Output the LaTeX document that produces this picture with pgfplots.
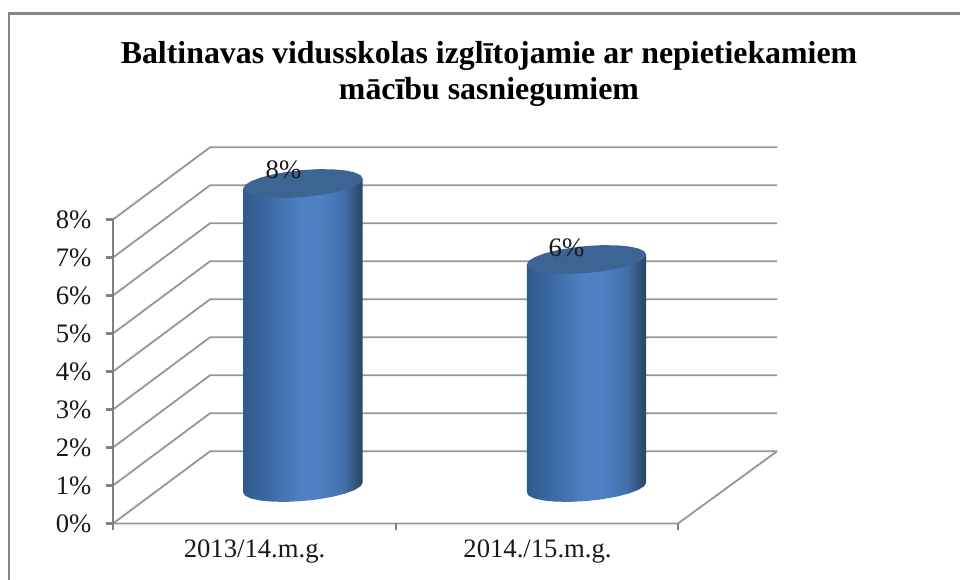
\documentclass[border=0pt]{standalone}
\usepackage{fontspec}
\setmainfont{Liberation Serif}
\usepackage{pgfplots}
\usepackage{pgfplotstable}
\pgfplotsset{compat=1.18}

% 1 px of the reference = 0.75pt; x in px, y in percent (38 px per 1%)
\definecolor{wallgray}{HTML}{969696}
\definecolor{axisgray}{HTML}{808080}
\definecolor{framegray}{HTML}{868686}
\definecolor{captop}{HTML}{3C6594}
\definecolor{cylA}{HTML}{2F5A8C}
\definecolor{cylB}{HTML}{3B69A2}
\definecolor{cylC}{HTML}{4F80C3}
\definecolor{cylD}{HTML}{4170AA}
\definecolor{cylE}{HTML}{2A4260}
\pgfdeclarehorizontalshading{cylbody}{100bp}{
  color(0bp)=(cylA); color(25bp)=(cylA); color(35bp)=(cylB);
  color(49bp)=(cylC); color(57bp)=(cylC); color(67bp)=(cylD);
  color(75bp)=(cylE); color(100bp)=(cylE)}

% outline of a cylinder: lower rim, then up to the top rim (h=1)
\pgfplotstableread{
u s h
-1 0 0
-0.966 -0.259 0
-0.866 -0.5 0
-0.707 -0.707 0
-0.5 -0.866 0
-0.259 -0.966 0
0 -1 0
0.259 -0.966 0
0.5 -0.866 0
0.707 -0.707 0
0.866 -0.5 0
0.966 -0.259 0
1 0 0
1 0 1
-1 0 1
}\cylbody
% top ellipse
\pgfplotstableread{
u s
1 0
0.966 0.259
0.866 0.5
0.707 0.707
0.5 0.866
0.259 0.966
0 1
-0.259 0.966
-0.5 0.866
-0.707 0.707
-0.866 0.5
-0.966 0.259
-1 0
-0.966 -0.259
-0.866 -0.5
-0.707 -0.707
-0.5 -0.866
-0.259 -0.966
0 -1
0.259 -0.966
0.5 -0.866
0.707 -0.707
0.866 -0.5
0.966 -0.259
}\cylcap

\newcommand{\cylinder}[2]{%
  \addplot[draw=none, shade, shading=cylbody] table[
    x expr=#1+59.7*\thisrow{u},
    y expr=0.947+\thisrow{h}*#2+(5*\thisrow{u}+13.5*\thisrow{s})/38] {\cylbody};
  \addplot[draw=none, fill=captop] table[
    x expr=#1+59.7*\thisrow{u},
    y expr=0.947+#2+(5*\thisrow{u}+13.5*\thisrow{s})/38] {\cylcap} -- cycle;
}

\tikzset{
  wall/.style={wallgray, line width=1.35pt, line join=miter},
  axln/.style={axisgray, line width=1.6pt},
}

\begin{document}
\begin{tikzpicture}
\path[use as bounding box] (0,0) rectangle (720pt,435pt);
% outer chart frame, open at the right and the bottom
\draw[color=framegray, line width=1.8pt] (6.9pt,0) -- (6.9pt,425pt) -- (720pt,425pt);
\begin{axis}[
    at={(84.75pt,42.375pt)}, anchor=south west,
    scale only axis,
    width=498pt, height=282.6pt,
    xmin=113, xmax=777, ymin=0, ymax=9.916,
    clip=false,
    axis line style={draw=none},
    ytick pos=left, xtick pos=bottom,
    ytick={0,...,8},
    yticklabel={\pgfmathprintnumber{\tick}\%},
    /pgf/number format/assume math mode=true,
    major tick length=0pt,
    xtick={254.5,537.5},
    xticklabels={2013/14.m.g.,2014./15.m.g.},
    tick label style={font=\fontsize{20}{24}\selectfont, text=black!90},
    y tick label style={xshift=-12.7pt},
    x tick label style={yshift=-8.7pt},
]
% floor, side wall and back wall
\addplot[wall] coordinates {(113,0)(678,0)(777,1.9)};
\addplot[wall] coordinates {(113,0)(210,1.9)(777,1.9)};
\addplot[wall] coordinates {(113,1)(210,2.9)(777,2.9)};
\addplot[wall] coordinates {(113,2)(210,3.9)(777,3.9)};
\addplot[wall] coordinates {(113,3)(210,4.9)(777,4.9)};
\addplot[wall] coordinates {(113,4)(210,5.9)(777,5.9)};
\addplot[wall] coordinates {(113,5)(210,6.9)(777,6.9)};
\addplot[wall] coordinates {(113,6)(210,7.9)(777,7.9)};
\addplot[wall] coordinates {(113,7)(210,8.9)(777,8.9)};
\addplot[wall] coordinates {(113,8)(210,9.9)(777,9.9)};
% value axis and tick marks
\addplot[axln] coordinates {(113,-0.17)(113,8)};
\addplot[axln] coordinates {(106,0)(113,0)};
\addplot[axln] coordinates {(106,1)(113,1)};
\addplot[axln] coordinates {(106,2)(113,2)};
\addplot[axln] coordinates {(106,3)(113,3)};
\addplot[axln] coordinates {(106,4)(113,4)};
\addplot[axln] coordinates {(106,5)(113,5)};
\addplot[axln] coordinates {(106,6)(113,6)};
\addplot[axln] coordinates {(106,7)(113,7)};
\addplot[axln] coordinates {(106,8)(113,8)};
\addplot[axln] coordinates {(396,-0.17)(396,0)};
\addplot[axln] coordinates {(678,-0.17)(678,0)};
% the two columns
\cylinder{303}{8}
\cylinder{586.5}{6}
\node[font=\fontsize{20}{24}\selectfont, text=black!90] at (axis cs:283.5,9.3) {8\%};
\node[font=\fontsize{20}{24}\selectfont, text=black!90] at (axis cs:566.5,7.25) {6\%};
\node[font=\bfseries\fontsize{23.9}{27}\selectfont, align=center, text=black] at (axis cs:489,11.82)
  {Baltinavas vidusskolas izglītojamie ar nepietiekamiem\\mācību sasniegumiem};
\end{axis}
\end{tikzpicture}
\end{document}
